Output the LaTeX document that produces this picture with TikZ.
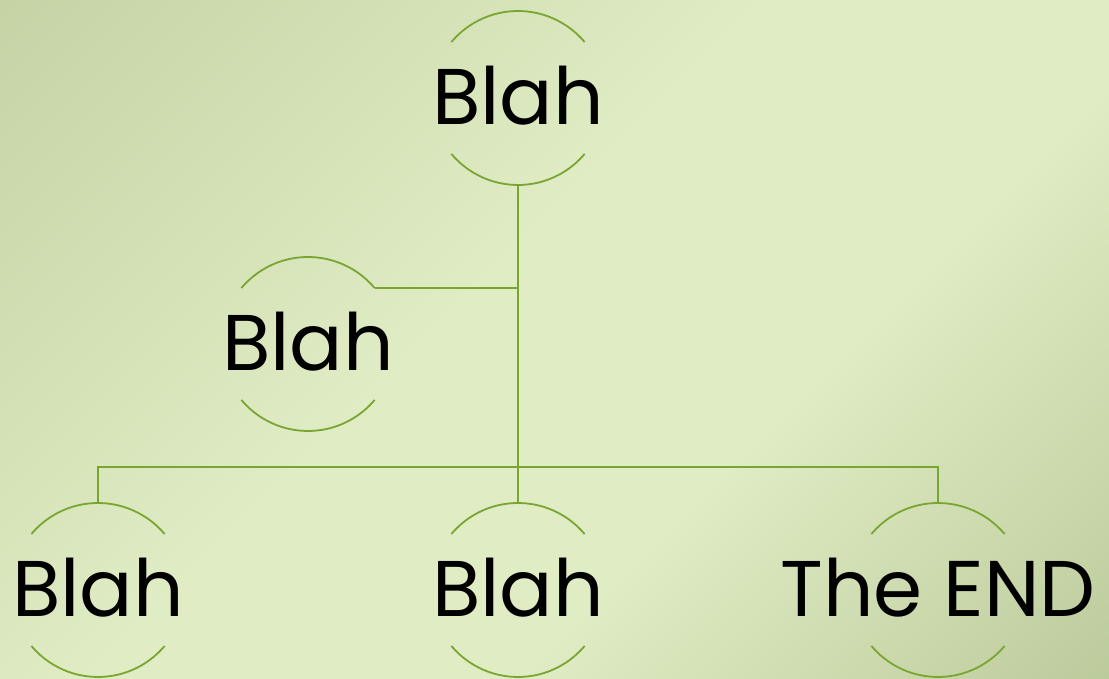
\documentclass[tikz,border=0pt]{standalone}
\usepackage{fontspec}
\setmainfont{Poppins}
\definecolor{bgdark}{RGB}{197,211,165}
\definecolor{bglight}{RGB}{224,236,196}
\definecolor{bgdark2}{RGB}{188,203,156}
\definecolor{linkgreen}{RGB}{122,165,48}
\pgfdeclarehorizontalshading{bgshade}{100bp}{color(0bp)=(bgdark); color(14.6bp)=(bgdark); color(45bp)=(bglight); color(62bp)=(bglight); color(85.4bp)=(bgdark2); color(100bp)=(bgdark2)}
\begin{document}
\begin{tikzpicture}[x=1pt,y=1pt,
  ring/.style={circle, minimum size=174pt, inner sep=0pt, outer sep=0pt},
  arcline/.style={draw=linkgreen, line width=1.8pt},
  link/.style={draw=linkgreen, line width=1.8pt},
  lbl/.style={inner sep=0pt, font=\fontsize{79}{79}\selectfont, text=black, yshift=2pt}]
\useasboundingbox (0,0) rectangle (1109,679);
\shade[shading=bgshade, shading angle=-45] (0,0) rectangle (1109,679);
% ring nodes
\node[ring] (a) at (518,581) {};
\node[ring] (b) at (308,335) {};
\node[ring] (c) at (98,89) {};
\node[ring] (d) at (518,89) {};
\node[ring] (e) at (938,89) {};
\foreach \n in {a,b,c,d,e}{
  \draw[arcline] (\n.40) arc[start angle=40, end angle=140, radius=87pt];
  \draw[arcline] (\n.220) arc[start angle=220, end angle=320, radius=87pt];
}
% labels
\node[lbl] (ta) at (a) {Blah};
\node[lbl] (tb) at (b) {Blah};
\node[lbl] (tc) at (c) {Blah};
\node[lbl] (td) at (d) {Blah};
\node[lbl] (te) at (e) {The END};
% connectors
\draw[link] (a.south) -- (d.north);
\draw[link] (b.40) -- (b.40 -| a.south);
\draw[link] (c.north) -- ++(0,36) -| (e.north);
\end{tikzpicture}
\end{document}
